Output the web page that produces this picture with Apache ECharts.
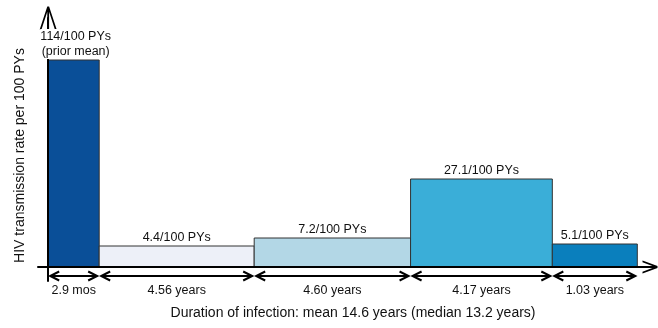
<!DOCTYPE html>
<html>
<head>
<meta charset="utf-8">
<script src="https://cdn.jsdelivr.net/npm/echarts@6/dist/echarts.min.js"></script>
<style>
html, body { margin: 0; padding: 0; background: #fff; }
#chart { width: 658px; height: 328px; }
</style>
</head>
<body>
<div id="chart"></div>
<script>
// schematic figure: widths and heights are read off the picture, not to scale
const durationLabels = ['2.9 mos', '4.56 years', '4.60 years', '4.17 years', '1.03 years']
const rateLabels = ['114/100 PYs\n(prior mean)', '4.4/100 PYs', '7.2/100 PYs', '27.1/100 PYs', '5.1/100 PYs']
const barSpans = [1.5, 4.56, 4.60, 4.17, 2.5]
const barHeights = [207, 21, 29, 88, 23]

const colors = ['#0a4f98', '#edf0f8', '#b3d7e6', '#3aaed8', '#0a7fbd']
const font = 'Liberation Sans, Arial, sans-serif'

const bars = []
let start = 0
for (let i = 0; i < barSpans.length; i++) {
    bars.push([start, start + barSpans[i], barHeights[i], i])
    start += barSpans[i]
}

const chart = echarts.init(document.getElementById('chart'))

const renderBar = function (params, api) {
    const i = api.value(3)
    const p0 = api.coord([api.value(0), api.value(2)])
    const p1 = api.coord([api.value(1), 0])
    return {
        type: 'rect',
        shape: { x: p0[0], y: p0[1], width: p1[0] - p0[0], height: p1[1] - p0[1] },
        style: { fill: colors[i], stroke: '#333', lineWidth: 1 }
    }
}

// labels sit on a white box, so the y axis line is hidden behind the first one
const renderRate = function (params, api) {
    const i = api.value(3)
    const p0 = api.coord([api.value(0), api.value(2)])
    const p1 = api.coord([api.value(1), 0])
    return {
        type: 'text',
        x: (p0[0] + p1[0]) / 2 + (i === 0 ? 2 : 0),
        y: p0[1] - 1,
        style: {
            text: rateLabels[i], fill: '#111', font: '12.5px ' + font,
            align: 'center', verticalAlign: 'bottom', lineHeight: 15,
            backgroundColor: '#fff'
        }
    }
}

const renderArrow = function (params, api) {
    const i = api.value(3)
    const a = api.coord([api.value(0), 0])
    const b = api.coord([api.value(1), 0])
    const y = a[1] + 9
    const x0 = a[0] + 2
    const x1 = b[0] - 2
    const line = { stroke: '#000', lineWidth: 2, fill: null }
    return {
        type: 'group',
        children: [{
            type: 'polyline', shape: { points: [[x0, y], [x1, y]] }, style: line
        }, {
            type: 'polyline', shape: { points: [[x0 + 9, y - 4.5], [x0, y], [x0 + 9, y + 4.5]] }, style: line
        }, {
            type: 'polyline', shape: { points: [[x1 - 9, y - 4.5], [x1, y], [x1 - 9, y + 4.5]] }, style: line
        }, {
            type: 'text',
            x: (a[0] + b[0]) / 2,
            y: y + 15,
            style: {
                text: durationLabels[i], fill: '#111', font: '12.5px ' + font,
                align: 'center', verticalAlign: 'middle'
            }
        }]
    }
}

const option = {
    animation: false,
    grid: { left: 38, right: 2, top: 18, bottom: 47, outerBoundsMode: 'none' },
    xAxis: {
        type: 'value',
        min: -0.3,
        max: 17.88,
        z: 5,
        name: 'Duration of infection: mean 14.6 years (median 13.2 years)',
        nameLocation: 'middle',
        nameGap: 25,
        nameTextStyle: { color: '#111', fontSize: 14, fontFamily: font, padding: [0, 0, 0, 12] },
        axisLine: {
            lineStyle: { color: '#000', width: 2 },
            symbol: ['none', 'path://M0,15 L5.6,0 L7.4,0 L13,15 L11.2,15 L6.5,2.5 L1.8,15 Z'],
            symbolSize: [13, 15],
            symbolOffset: [0, -6]
        },
        axisTick: { show: false },
        axisLabel: { show: false },
        splitLine: { show: false }
    },
    yAxis: {
        type: 'value',
        min: -14,
        max: 249,
        z: 5,
        name: 'HIV transmission rate per 100 PYs',
        nameLocation: 'middle',
        nameGap: 11,
        nameTextStyle: { color: '#111', fontSize: 14, fontFamily: font, padding: [0, 12, 0, 0] },
        axisLine: {
            lineStyle: { color: '#000', width: 2 },
            symbol: ['none', 'path://M0,23 L7.6,0 L9.4,0 L17,23 L15.2,23 L8.5,2.5 L1.8,23 Z M7.6,0 L9.4,0 L9.4,23 L7.6,23 Z'],
            symbolSize: [17, 23]
        },
        axisTick: { show: false },
        axisLabel: { show: false },
        splitLine: { show: false }
    },
    series: [{
        type: 'custom',
        renderItem: renderBar,
        data: bars,
        encode: { x: [0, 1], y: 2 },
        clip: false
    }, {
        type: 'custom',
        renderItem: renderRate,
        data: bars,
        encode: { x: [0, 1], y: 2 },
        z: 10,
        clip: false
    }, {
        type: 'custom',
        renderItem: renderArrow,
        data: bars,
        encode: { x: [0, 1], y: 2 },
        clip: false
    }]
}
chart.setOption(option)
</script>
</body>
</html>
